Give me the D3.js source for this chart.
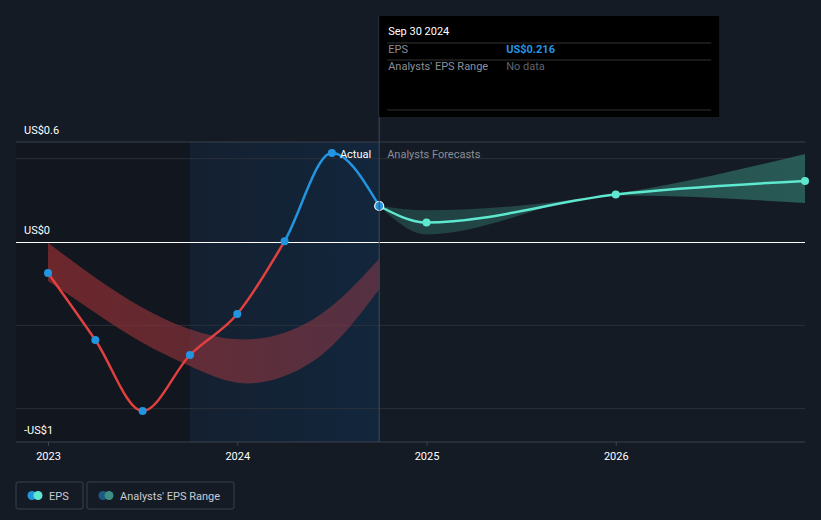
<!DOCTYPE html>
<html>
<head>
<meta charset="utf-8">
<script src="https://cdn.jsdelivr.net/npm/d3@7"></script>
<style>
  body { margin: 0; background: #151b25; }
  svg { display: block; font-family: Roboto, "Noto Sans", sans-serif; }
</style>
</head>
<body>
<script>
const w = 821;
const h = 520;

// actual EPS (fractional year, value)
const actualDates = [2023.0, 2023.25, 2023.5, 2023.75, 2024.0, 2024.25, 2024.5, 2024.75];
const actualEps = [-0.186, -0.588, -1.014, -0.678, -0.432, 0.005, 0.534, 0.216];

// past analysts' range (red band)
const pastRangeDates = [2023.0, 2023.25, 2023.5, 2023.75, 2024.0, 2024.25, 2024.5, 2024.75];
const pastRangeHigh = [-0.004, -0.214, -0.394, -0.524, -0.584, -0.544, -0.384, -0.10];
const pastRangeLow = [-0.234, -0.424, -0.604, -0.744, -0.844, -0.804, -0.624, -0.284];

// forecast EPS
const forecastDates = [2024.75, 2025.0, 2026.0, 2027.0];
const forecastEps = [0.216, 0.117, 0.285, 0.366];
const forecastHigh = [0.216, 0.19, 0.29, 0.528];
const forecastLow = [0.216, 0.045, 0.28, 0.234];

const yearTicks = [2023, 2024, 2025, 2026];
const gridValues = [0.5, -0.5, -1];
const yLabels = [
  { text: 'US$0.6', v: 0.6, dy: -12 },
  { text: 'US$0', v: 0, dy: -12 },
  { text: '-US$1', v: -1, dy: 21 }
];

const x = d3.scaleLinear().domain([2023, 2027]).range([48, 805]);
const y = d3.scaleLinear().domain([-1.2, 0.6]).range([442, 142]);

const svg = d3.select('body').append('svg')
  .attr('width', w)
  .attr('height', h);

const defs = svg.append('defs');
const grad = defs.append('linearGradient').attr('id', 'pastGrad');
grad.append('stop').attr('offset', '0%').attr('stop-color', '#142030');
grad.append('stop').attr('offset', '100%').attr('stop-color', '#12263c');

const redGrad = defs.append('linearGradient').attr('id', 'redGrad');
redGrad.append('stop').attr('offset', '0%').attr('stop-color', '#8a2c30').attr('stop-opacity', 0.75);
redGrad.append('stop').attr('offset', '100%').attr('stop-color', '#8a3a48').attr('stop-opacity', 0.55);

const tealGrad = defs.append('linearGradient').attr('id', 'tealGrad');
tealGrad.append('stop').attr('offset', '0%').attr('stop-color', '#2e6a63').attr('stop-opacity', 0.45);
tealGrad.append('stop').attr('offset', '100%').attr('stop-color', '#2f6f66').attr('stop-opacity', 0.75);

defs.append('clipPath').attr('id', 'aboveZero')
  .append('rect').attr('x', 0).attr('y', 0).attr('width', w).attr('height', y(0));
defs.append('clipPath').attr('id', 'belowZero')
  .append('rect').attr('x', 0).attr('y', y(0)).attr('width', w).attr('height', h - y(0));

// shaded periods
svg.append('rect')
  .attr('x', 16).attr('y', 142)
  .attr('width', x(2023.75) - 16).attr('height', 300)
  .attr('fill', '#12161e');
svg.append('rect')
  .attr('x', x(2023.75)).attr('y', 142)
  .attr('width', x(2024.75) - x(2023.75)).attr('height', 300)
  .attr('fill', 'url(#pastGrad)');

// gridlines
svg.selectAll('.grid')
  .data(gridValues)
  .enter()
  .append('line')
    .attr('x1', 16).attr('x2', 805)
    .attr('y1', d => y(d)).attr('y2', d => y(d))
    .attr('stroke', '#2a313c')
    .attr('stroke-width', 1);
svg.append('line')
  .attr('x1', 16).attr('x2', 805)
  .attr('y1', y(0.6)).attr('y2', y(0.6))
  .attr('stroke', '#3a414c');

// red band
svg.append('path')
  .attr('d', d3.area().curve(d3.curveNatural)
    .x((d, i) => x(pastRangeDates[i]))
    .y0((d, i) => y(pastRangeLow[i]))
    .y1((d, i) => y(pastRangeHigh[i]))(pastRangeDates))
  .attr('fill', 'url(#redGrad)');

// forecast band
svg.append('path')
  .attr('d', d3.area().curve(d3.curveMonotoneX)
    .x((d, i) => x(forecastDates[i]))
    .y0((d, i) => y(forecastLow[i]))
    .y1((d, i) => y(forecastHigh[i]))(forecastDates))
  .attr('fill', 'url(#tealGrad)');

// zero line
svg.append('line')
  .attr('x1', 16).attr('x2', 805)
  .attr('y1', y(0) + 0.5).attr('y2', y(0) + 0.5)
  .attr('stroke', '#ffffff')
  .attr('stroke-width', 1.3)
  .attr('shape-rendering', 'crispEdges');

// axis line at bottom
svg.append('line')
  .attr('x1', 16).attr('x2', 805)
  .attr('y1', 442).attr('y2', 442)
  .attr('stroke', '#3c434e');

// x axis
const xAxis = svg.append('g')
  .attr('transform', 'translate(0,442)')
  .call(d3.axisBottom(x).tickValues(yearTicks).tickFormat(d3.format('d')).tickSize(4).tickPadding(6));
xAxis.select('.domain').remove();
xAxis.selectAll('line').attr('stroke', '#3c434e');
xAxis.selectAll('text')
  .attr('fill', '#ffffff')
  .attr('font-size', 11)
  .attr('font-family', 'Roboto, sans-serif');

// y labels
svg.selectAll('.ylab')
  .data(yLabels)
  .enter()
  .append('text')
    .attr('x', 24)
    .attr('y', d => y(d.v) + d.dy + 4)
    .attr('fill', '#ffffff')
    .attr('font-size', 11)
    .text(d => d.text);

// actual line, red below zero, blue above
const line = d3.line()
  .curve(d3.curveMonotoneX)
  .x((d, i) => x(actualDates[i]))
  .y(d => y(d));
svg.append('path')
  .attr('d', line(actualEps))
  .attr('fill', 'none')
  .attr('stroke', '#e0403e')
  .attr('stroke-width', 2.5)
  .attr('clip-path', 'url(#belowZero)');
svg.append('path')
  .attr('d', line(actualEps))
  .attr('fill', 'none')
  .attr('stroke', '#2394e0')
  .attr('stroke-width', 2.5)
  .attr('clip-path', 'url(#aboveZero)');

// forecast line
svg.append('path')
  .attr('d', d3.line().curve(d3.curveMonotoneX)
    .x((d, i) => x(forecastDates[i]))
    .y(d => y(d))(forecastEps))
  .attr('fill', 'none')
  .attr('stroke', '#5ee8cf')
  .attr('stroke-width', 2.5);

// points
svg.selectAll('.fdot')
  .data(forecastEps.slice(1))
  .enter()
  .append('circle')
    .attr('cx', (d, i) => x(forecastDates[i + 1]))
    .attr('cy', d => y(d))
    .attr('r', 4)
    .attr('fill', '#5ee8cf');

svg.selectAll('.adot')
  .data(actualEps)
  .enter()
  .append('circle')
    .attr('cx', (d, i) => x(actualDates[i]))
    .attr('cy', d => y(d))
    .attr('r', (d, i) => i === actualEps.length - 1 ? 4.5 : 4)
    .attr('fill', '#2394e0')
    .attr('stroke', (d, i) => i === actualEps.length - 1 ? '#ffffff' : 'none')
    .attr('stroke-width', 1.2);

// Actual / Analysts Forecasts labels
svg.append('text')
  .attr('x', x(2024.5) + 8).attr('y', y(0.534) + 5)
  .attr('fill', '#ffffff').attr('font-size', 11)
  .text('Actual');
svg.append('text')
  .attr('x', x(2024.75) + 8).attr('y', y(0.534) + 5)
  .attr('fill', '#8a8f98').attr('font-size', 11)
  .text('Analysts Forecasts');

// vertical marker and tooltip
svg.append('line')
  .attr('x1', x(2024.75)).attr('x2', x(2024.75))
  .attr('y1', 16).attr('y2', 442)
  .attr('stroke', '#3a4a5c')
  .attr('stroke-width', 1);

const tip = svg.append('g').attr('transform', `translate(${x(2024.75)},16)`);
tip.append('rect')
  .attr('width', 340).attr('height', 101)
  .attr('fill', '#000000');
tip.append('text')
  .attr('x', 9).attr('y', 19)
  .attr('fill', '#ffffff').attr('font-size', 11)
  .text('Sep 30 2024');
[27, 44, 94].forEach(yy => {
  tip.append('line')
    .attr('x1', 8).attr('x2', 332)
    .attr('y1', yy).attr('y2', yy)
    .attr('stroke', '#333333');
});
tip.append('text').attr('x', 9).attr('y', 37).attr('fill', '#8a8f98').attr('font-size', 11).text('EPS');
tip.append('text').attr('x', 127).attr('y', 37).attr('fill', '#2394e0').attr('font-size', 11).attr('font-weight', 'bold').text('US$0.216');
tip.append('text').attr('x', 9).attr('y', 54).attr('fill', '#8a8f98').attr('font-size', 11).text("Analysts' EPS Range");
tip.append('text').attr('x', 127).attr('y', 54).attr('fill', '#5f646c').attr('font-size', 11).text('No data');

// legend
const legendItems = [
  { label: 'EPS', c1: '#2394e0', c2: '#5ee8cf', x: 16, width: 67 },
  { label: "Analysts' EPS Range", c1: '#1c5a80', c2: '#3d8f86', x: 87, width: 147 }
];
const lg = svg.selectAll('.legend')
  .data(legendItems)
  .enter()
  .append('g')
    .attr('transform', d => `translate(${d.x},482)`);
lg.append('rect')
  .attr('width', d => d.width).attr('height', 27)
  .attr('rx', 2)
  .attr('fill', 'none')
  .attr('stroke', '#3a414c');
lg.append('circle').attr('cx', 16).attr('cy', 13.5).attr('r', 4.5).attr('fill', d => d.c1);
lg.append('circle').attr('cx', 22).attr('cy', 13.5).attr('r', 4.5).attr('fill', d => d.c2);
lg.append('text')
  .attr('x', 33).attr('y', 17.5)
  .attr('fill', '#c8ccd2').attr('font-size', 11)
  .text(d => d.label);
</script>
</body>
</html>
